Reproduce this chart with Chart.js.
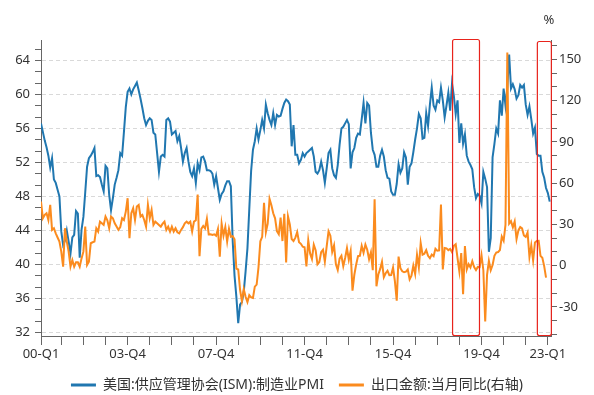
<!DOCTYPE html>
<html>
<head>
<meta charset="utf-8">
<script src="https://cdn.jsdelivr.net/npm/chart.js@4.4.1/dist/chart.umd.min.js"></script>
<style>
  html, body { margin: 0; padding: 0; background: #fff; }
</style>
</head>
<body>
<canvas id="chart" width="594" height="395"></canvas>
<script>
// Monthly data, Jan 2000 .. Jan 2023
const startYear = 2000;
const months = [];
for (let y = startYear; y <= 2023; y++) {
    for (let m = 1; m <= 12; m++) {
        if (y === 2023 && m > 1) break;
        months.push(y + '-' + String(m).padStart(2, '0'));
    }
}

// ISM manufacturing PMI (left axis)
const ismPmi = [
    56.6, 55.6, 54.6, 53.8, 52.8, 51.4, 52.5, 50.0, 49.6, 48.8, 48.0, 43.9,
    42.3, 42.8, 44.0, 42.7, 41.3, 43.2, 43.5, 46.3, 46.0, 40.8, 44.1, 45.6,
    48.5, 51.5, 52.5, 52.8, 53.2, 53.7, 50.4, 50.5, 50.3, 49.4, 48.6, 51.6,
    51.3, 48.2, 46.4, 47.8, 49.4, 50.2, 51.1, 53.1, 52.8, 55.6, 58.5, 60.3,
    60.7, 60.0, 60.6, 61.0, 61.4, 60.5, 59.5, 58.4, 57.2, 56.4, 56.9, 57.2,
    57.0, 55.5, 55.3, 53.1, 50.9, 52.7, 52.9, 52.7, 57.0, 57.2, 56.8, 55.3,
    55.5, 55.7, 54.5, 55.1, 53.7, 52.1, 53.1, 53.7, 52.1, 50.9, 50.4, 51.3,
    49.6, 51.9, 51.1, 52.6, 52.7, 52.1, 51.1, 51.1, 51.0, 50.7, 49.4, 50.4,
    49.0, 47.6, 48.3, 48.6, 49.3, 49.8, 49.8, 49.2, 42.8, 38.7, 36.2, 33.1,
    35.3, 35.6, 36.8, 39.2, 41.9, 46.5, 51.0, 53.5, 54.5, 56.0, 54.7, 55.8,
    57.0, 56.0, 58.8, 57.8, 57.0, 56.4, 57.8, 56.4, 57.6, 57.4, 57.5, 58.3,
    59.0, 59.4, 59.2, 58.8, 53.9, 56.4, 52.9, 52.9, 51.9, 52.3, 53.1, 52.7,
    53.1, 53.3, 53.5, 53.7, 52.7, 50.9, 50.7, 51.1, 52.1, 51.1, 49.6, 51.3,
    53.1, 53.5, 51.3, 50.5, 50.2, 51.7, 54.1, 56.0, 56.2, 56.6, 57.0, 56.5,
    51.3, 53.2, 53.7, 54.9, 55.4, 55.3, 57.1, 59.0, 56.6, 59.0, 58.7, 55.5,
    53.5, 52.9, 51.5, 51.5, 52.8, 53.5, 52.7, 51.1, 50.2, 50.1, 48.6, 48.2,
    48.2, 49.5, 51.8, 50.8, 51.3, 53.2, 52.6, 49.4, 51.5, 51.9, 53.2, 54.7,
    56.0, 57.7, 57.2, 54.8, 54.9, 57.8, 56.3, 58.8, 60.8, 58.7, 58.2, 59.3,
    59.1, 60.8, 59.3, 57.3, 58.7, 60.2, 58.1, 61.3, 59.8, 57.7, 59.3, 54.3,
    56.6, 54.2, 55.3, 52.8, 52.1, 51.7, 51.2, 49.1, 47.8, 48.3, 48.1, 47.2,
    50.9, 50.1, 49.1, 41.5, 43.1, 52.6, 54.2, 56.0, 55.4, 59.3, 57.5, 60.7,
    58.7, 60.8, 64.7, 60.7, 61.2, 60.6, 59.5, 59.9, 61.1, 60.8, 61.1, 58.8,
    57.6, 58.6, 57.1, 55.4, 56.1, 53.0, 52.8, 52.8, 50.9, 50.2, 49.0, 48.4,
    47.4
];

// Export value YoY, % (right axis), ends Nov 2022
const exportYoy = [
    46.6, 34.5, 36.9, 38.1, 33.2, 44.2, 26.0, 27.2, 23.5, 20.5, 17.5, 10.2,
    -0.7, 27.2, 17.5, 10.2, -0.7, 4.1, -0.7, 2.5, 2.5, -0.7, 5.3, 10.2,
    28.4, 0.5, 2.9, 16.3, 17.0, 17.5, 27.2, 24.8, 32.0, 30.8, 29.6, 35.7,
    33.0, 27.2, 35.7, 34.5, 30.8, 28.4, 26.0, 28.0, 34.5, 33.2, 39.3, 49.0,
    19.9, 38.1, 41.7, 33.2, 43.0, 44.2, 35.7, 36.9, 33.2, 28.4, 44.2, 34.5,
    40.5, 29.6, 32.0, 30.8, 29.6, 28.4, 30.5, 32.0, 26.0, 28.4, 24.8, 28.4,
    24.8, 27.2, 24.3, 23.5, 26.0, 28.0, 30.8, 32.0, 30.8, 32.0, 24.8, 32.0,
    33.0, 51.7, 6.9, 26.8, 28.9, 27.1, 34.1, 22.7, 22.8, 22.3, 22.8, 21.7,
    26.6, 6.5, 30.6, 21.8, 28.1, 17.6, 26.9, 21.1, 21.5, 19.2, -2.2, -2.8,
    -17.5, -25.7, -17.1, -22.6, -26.4, -21.4, -23.0, -23.4, -15.2, -13.8, -1.2, 17.7,
    21.0, 45.7, 24.3, 30.5, 48.5, 43.9, 38.1, 34.4, 25.1, 22.9, 34.9, 17.9,
    37.7, 2.4, 35.8, 29.9, 19.4, 17.9, 20.4, 24.5, 17.1, 15.9, 13.8, 13.4,
    -0.5, 18.4, 8.9, 4.9, 15.3, 11.3, 1.0, 2.7, 9.9, 11.6, 2.9, 14.1,
    25.0, 21.8, 10.0, 14.7, 1.0, -3.1, 5.1, 7.2, -0.3, 5.6, 12.7, 4.3,
    10.6, -18.1, -6.6, 0.9, 7.0, 7.2, 14.5, 9.4, 15.3, 11.6, 4.7, 9.7,
    -3.3, 48.3, -15.0, -6.4, -2.5, 2.8, -8.3, -5.5, -3.7, -6.9, -6.8, -1.4,
    -11.2, -25.4, 6.6, -1.8, -4.1, -4.8, -4.4, -2.8, -10.0, -7.3, 0.1, -6.1,
    7.9, -1.3, 16.4, 8.0, 8.7, 11.3, 7.2, 5.5, 8.1, 6.9, 12.3, 10.9,
    11.1, 44.5, -2.7, 12.9, 12.6, 11.3, 12.2, 9.8, 14.5, 15.6, 5.4, -4.4,
    9.1, -20.7, 14.2, -2.7, 1.1, -1.3, 3.3, -1.0, -3.2, -0.9, -1.1, 7.6,
    -3.3, -40.6, -6.6, 3.5, -3.3, 0.5, 7.2, 9.5, 9.9, 11.4, 21.1, 18.1,
    29.6, 154.9, 30.6, 32.3, 27.9, 32.2, 19.3, 25.6, 28.1, 27.1, 22.0, 20.9,
    24.1, 6.3, 14.7, 3.9, 16.9, 17.9, 18.0, 7.1, 5.7, -0.3, -8.7
];

// x-axis labels and the months they sit on
const xTickLabels = ['00-Q1', '03-Q4', '07-Q4', '11-Q4', '15-Q4', '19-Q4', '23-Q1'];
const xTickMonths = ['2000-01', '2003-12', '2007-12', '2011-12', '2015-12', '2019-12', '2022-12'];

const leftTickLabels = [32, 36, 40, 44, 48, 52, 56, 60, 64];
const rightTickLabels = [-30, 0, 30, 60, 90, 120, 150];

// highlighted periods (red frames)
const highlightMonths = [['2018-08', '2019-10'], ['2022-06', '2023-01']];

const seriesNames = ['美国:供应管理协会(ISM):制造业PMI', '出口金额:当月同比(右轴)'];

const toPoints = arr => arr.map((v, i) => ({ x: i, y: v }));
const xTickIdx = [0];
months.forEach((m, i) => { if (m.endsWith('-12')) xTickIdx.push(i); });
const xLabelAt = {};
xTickMonths.forEach((m, k) => { xLabelAt[months.indexOf(m)] = xTickLabels[k]; });

const axisColor = '#666';

const extrasPlugin = {
    id: 'extras',
    afterDatasetsDraw(chart) {
        const { ctx, chartArea, scales } = chart;
        ctx.save();
        ctx.strokeStyle = '#e8231c';
        ctx.lineWidth = 1.2;
        highlightMonths.forEach(([a, b], k) => {
            const x1 = scales.x.getPixelForValue(months.indexOf(a) + 0.3);
            const x2 = scales.x.getPixelForValue(months.indexOf(b) + 0.9);
            const top = chartArea.top + (k === 0 ? -0.5 : 1.5);
            const bottom = chartArea.bottom - 0.5;
            ctx.beginPath();
            ctx.roundRect(x1, top, x2 - x1, bottom - top, 2);
            ctx.stroke();
        });
        ctx.fillStyle = '#333';
        ctx.font = "13px 'Noto Sans', 'Noto Sans CJK SC', sans-serif";
        ctx.textAlign = 'center';
        ctx.textBaseline = 'middle';
        ctx.fillText('%', scales.y2.left - 2, chartArea.top - 20);
        ctx.restore();
    }
};

Chart.defaults.font.family = "'Noto Sans', 'Noto Sans CJK SC', sans-serif";
Chart.defaults.font.size = 13;
Chart.defaults.color = '#333';

new Chart(document.getElementById('chart').getContext('2d'), {
    type: 'line',
    data: {
        datasets: [{
            label: seriesNames[0],
            data: toPoints(ismPmi),
            yAxisID: 'y',
            borderColor: '#2077b0',
            backgroundColor: '#2077b0',
            borderWidth: 2,
            pointRadius: 0,
            tension: 0,
            order: 2
        }, {
            label: seriesNames[1],
            data: toPoints(exportYoy),
            yAxisID: 'y2',
            borderColor: '#fb8b1e',
            backgroundColor: '#fb8b1e',
            borderWidth: 2,
            pointRadius: 0,
            tension: 0,
            order: 1
        }]
    },
    options: {
        responsive: false,
        animation: false,
        layout: { padding: { top: 40, bottom: -7, left: 0, right: 0 } },
        plugins: {
            tooltip: { enabled: false },
            legend: {
                position: 'bottom',
                labels: {
                    usePointStyle: true,
                    pointStyle: 'line',
                    pointStyleWidth: 25,
                    padding: 15,
                    color: '#333',
                    font: { size: 14 },
                    sort: (a, b) => a.datasetIndex - b.datasetIndex,
                    generateLabels: chart =>
                        Chart.defaults.plugins.legend.labels.generateLabels(chart)
                            .map(l => Object.assign(l, { lineWidth: 3 }))
                }
            }
        },
        scales: {
            x: {
                type: 'linear',
                min: 0,
                max: 276.7,
                afterBuildTicks: s => { s.ticks = xTickIdx.map(v => ({ value: v })); },
                afterFit: s => { s.height = 27; },
                ticks: {
                    autoSkip: false,
                    maxRotation: 0,
                    padding: 1,
                    callback: v => xLabelAt[v] || ''
                },
                grid: { drawOnChartArea: false, tickLength: 9, tickColor: axisColor },
                border: { color: axisColor }
            },
            y: {
                position: 'left',
                min: 31.6,
                max: 66.4,
                afterBuildTicks: s => {
                    const t = [];
                    for (let k = 0; k <= 25; k++) t.push({ value: Math.round((32 + k * 4 / 3) * 1000) / 1000 });
                    s.ticks = t;
                },
                afterFit: s => { s.width = 41; },
                ticks: {
                    autoSkip: false,
                    padding: 5,
                    callback: v => leftTickLabels.includes(v) ? String(v) : ''
                },
                grid: {
                    color: c => (c.tick && leftTickLabels.includes(c.tick.value)) ? '#d9d9d9' : 'rgba(0,0,0,0)',
                    tickColor: axisColor,
                    tickLength: 6
                },
                border: { color: axisColor, dash: [4, 3] }
            },
            y2: {
                position: 'right',
                min: -51.1,
                max: 164,
                afterBuildTicks: s => {
                    const t = [];
                    for (let v = -50; v <= 160; v += 10) t.push({ value: v });
                    s.ticks = t;
                },
                afterFit: s => { s.width = 43; },
                ticks: {
                    autoSkip: false,
                    padding: 2,
                    callback: v => rightTickLabels.includes(v) ? String(v) : ''
                },
                grid: { drawOnChartArea: false, tickColor: axisColor, tickLength: 6 },
                border: { color: axisColor }
            }
        }
    },
    plugins: [extrasPlugin]
});
</script>
</body>
</html>
